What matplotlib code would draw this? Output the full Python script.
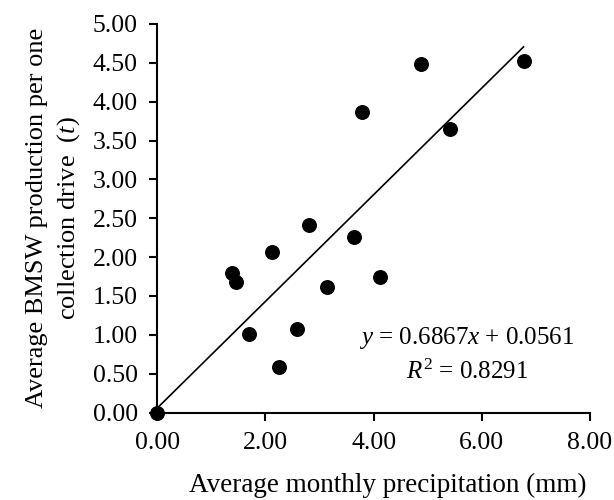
import matplotlib
matplotlib.use("Agg")
import matplotlib.pyplot as plt
import numpy as np

# data
precip = [0.00, 1.39, 1.45, 1.70, 2.13, 2.26, 2.58, 2.80, 3.14, 3.64, 3.78, 4.12, 4.87, 5.42, 6.77]
bmsw = [0.00, 1.80, 1.68, 1.01, 2.06, 0.59, 1.08, 2.41, 1.61, 2.26, 3.87, 1.74, 4.49, 3.65, 4.53]
slope, intercept = 0.6867, 0.0561
x_ticks = [0, 2, 4, 6, 8]
y_ticks = [0, 0.5, 1, 1.5, 2, 2.5, 3, 3.5, 4, 4.5, 5]

plt.rcParams.update({
    "font.family": "Liberation Serif",
    "mathtext.fontset": "custom",
    "mathtext.rm": "Liberation Serif",
    "mathtext.it": "Liberation Serif:italic",
})

fig = plt.figure(figsize=(6.14, 5.0), dpi=100)
ax = fig.add_axes([0.256, 0.175, 0.705, 0.777])

ax.scatter(precip, bmsw, s=95, color="black", zorder=3, clip_on=False)
xl = np.array([0, max(precip)])
ax.plot(xl, slope * xl + intercept, color="black", lw=1.2)

ax.set_xlim(0, 8)
ax.set_ylim(0, 5)
ax.set_xticks(x_ticks)
ax.set_yticks(y_ticks)
ax.set_xticklabels([f"{v:.2f}" for v in x_ticks])
ax.set_yticklabels([f"{v:.2f}" for v in y_ticks])
ax.tick_params(direction="out", length=6, width=1.5, labelsize=18.5, color="black")
ax.tick_params(axis="x", pad=8)
ax.tick_params(axis="y", pad=8)
for s in ["top", "right"]:
    ax.spines[s].set_visible(False)
for s in ["left", "bottom"]:
    ax.spines[s].set_linewidth(1.5)

ax.set_xlabel("Average monthly precipitation (mm)", fontsize=19.5, labelpad=12)
ax.xaxis.set_label_coords(0.533, -0.155)
ax.set_ylabel("Average BMSW production per one\ncollection drive  ($t$)", fontsize=19,
              labelpad=8, linespacing=1.35)

ax.text(5.72, 0.96, r"$y$ = 0.6867$x$ + 0.0561", fontsize=18, ha="center", va="center")
ax.text(5.72, 0.52, r"$R^{\mathrm{2}}$ = 0.8291", fontsize=18, ha="center", va="center")

fig.savefig("out.png", dpi=100)
